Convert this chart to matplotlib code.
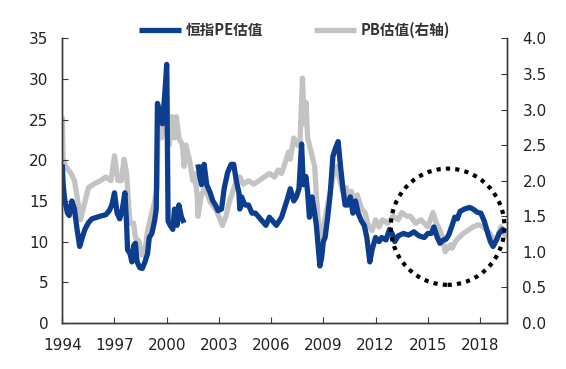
import numpy as np
import matplotlib
matplotlib.use("Agg")
import matplotlib.pyplot as plt
from matplotlib.patches import Ellipse

# 恒指PE (左轴), 2001-2002 之间缺数据
pe_year = [1994.0, 1994.05, 1994.15, 1994.3, 1994.4, 1994.55, 1994.7, 1994.85, 1995.0, 1995.15,
           1995.3, 1995.5, 1995.7, 1996.0, 1996.3, 1996.5, 1996.7, 1996.85, 1997.0, 1997.15,
           1997.3, 1997.45, 1997.6, 1997.7, 1997.75, 1997.9, 1998.0, 1998.1, 1998.2, 1998.3,
           1998.45, 1998.6, 1998.75, 1998.9, 1999.0, 1999.15, 1999.3, 1999.4, 1999.47, 1999.6,
           1999.75, 1999.85, 1999.95, 2000.0, 2000.04, 2000.08, 2000.2, 2000.35, 2000.45, 2000.6,
           2000.7, 2000.85, 2001.0, 2001.4,
           2001.8, 2001.9, 2002.0, 2002.15, 2002.3, 2002.5, 2002.65, 2002.8, 2002.95, 2003.15,
           2003.3, 2003.5, 2003.7, 2003.85, 2004.0, 2004.15, 2004.2, 2004.3, 2004.5, 2004.7,
           2004.9, 2005.1, 2005.3, 2005.5, 2005.7, 2005.9, 2006.1, 2006.3, 2006.6, 2006.9,
           2007.1, 2007.3, 2007.45, 2007.6, 2007.75, 2007.85, 2008.0, 2008.1, 2008.2, 2008.35,
           2008.5, 2008.6, 2008.7, 2008.8, 2008.9, 2009.0, 2009.1, 2009.25, 2009.4, 2009.55,
           2009.7, 2009.85, 2010.0, 2010.1, 2010.25, 2010.4, 2010.55, 2010.7, 2010.85, 2011.0,
           2011.2, 2011.35, 2011.5, 2011.67, 2011.8, 2012.0, 2012.2, 2012.35, 2012.6, 2012.8,
           2012.95, 2013.1, 2013.3, 2013.6, 2013.9, 2014.2, 2014.5, 2014.8, 2015.0, 2015.2,
           2015.35, 2015.55, 2015.7, 2015.9, 2016.05, 2016.2, 2016.4, 2016.55, 2016.7, 2016.85,
           2017.1, 2017.4, 2017.6, 2017.85, 2018.05, 2018.25, 2018.45, 2018.6, 2018.75, 2018.95,
           2019.1, 2019.3, 2019.45]
pe_val = [19.5, 17.0, 15.0, 13.5, 13.2, 15.0, 14.0, 11.5, 9.4, 10.5,
          11.5, 12.3, 12.8, 13.0, 13.2, 13.3, 13.8, 14.5, 16.0, 13.5,
          12.8, 14.0, 16.0, 12.0, 9.0, 8.5, 7.5, 9.5, 9.8, 7.5,
          6.8, 6.7, 7.5, 8.5, 10.5, 11.0, 12.5, 14.0, 27.0, 26.0,
          24.5, 27.0, 30.0, 31.8, 22.0, 12.5, 12.0, 11.5, 14.0, 12.0,
          14.5, 13.0, 12.3, np.nan,
          19.5, 18.0, 17.0, 19.5, 17.0, 16.0, 15.0, 14.5, 13.8, 14.0,
          16.5, 18.5, 19.5, 19.5, 17.5, 16.0, 14.0, 15.5, 14.5, 14.5,
          13.5, 13.5, 13.0, 12.5, 12.0, 13.0, 12.5, 12.0, 13.0, 15.0,
          16.5, 15.0, 15.5, 16.5, 22.0, 17.0, 18.0, 16.0, 13.0, 15.5,
          13.5, 12.0, 9.5, 7.0, 8.0, 10.0, 10.5, 13.0, 16.0, 20.5,
          21.5, 22.3, 19.0, 17.0, 14.5, 14.5, 15.5, 13.5, 15.0, 13.5,
          12.5, 12.0, 10.5, 7.5, 9.0, 10.5, 10.0, 10.5, 10.2, 11.5,
          11.0, 10.0, 10.7, 11.0, 10.8, 11.2, 10.7, 10.5, 11.0, 11.0,
          11.8, 10.5, 9.8, 10.2, 10.3, 10.8, 12.0, 13.0, 12.8, 13.7,
          14.0, 14.2, 14.0, 13.6, 13.5, 12.5, 11.0, 10.0, 9.4, 10.2,
          11.0, 11.5, 11.2]

# PB (右轴)
pb_year = [1994.0, 1994.05, 1994.2, 1994.5, 1994.7, 1994.9, 1995.05, 1995.2, 1995.5, 1995.8,
           1996.2, 1996.5, 1996.8, 1997.0, 1997.2, 1997.4, 1997.55, 1997.7, 1997.8, 1997.9,
           1998.1, 1998.2, 1998.4, 1998.6, 1998.75, 1998.9, 1999.1, 1999.3, 1999.45, 1999.5,
           1999.7, 1999.9, 2000.0, 2000.05, 2000.15, 2000.3, 2000.45, 2000.55, 2000.7, 2000.9,
           2001.0, 2001.1, 2001.3, 2001.5, 2001.6, 2001.75, 2001.8, 2002.0, 2002.2, 2002.5,
           2002.8, 2003.0, 2003.2, 2003.4, 2003.6, 2003.8, 2004.0, 2004.2, 2004.4, 2004.7,
           2005.0, 2005.3, 2005.6, 2005.9, 2006.2, 2006.4, 2006.6, 2006.8, 2007.0, 2007.1,
           2007.3, 2007.5, 2007.65, 2007.8, 2007.9, 2008.0, 2008.1, 2008.3, 2008.5, 2008.6,
           2008.75, 2008.85, 2009.0, 2009.2, 2009.4, 2009.6, 2009.8, 2009.9, 2010.1, 2010.3,
           2010.45, 2010.6, 2010.8, 2010.95, 2011.2, 2011.4, 2011.6, 2011.8, 2012.0, 2012.2,
           2012.4, 2012.7, 2013.0, 2013.3, 2013.5, 2013.8, 2014.0, 2014.3, 2014.6, 2014.8,
           2015.0, 2015.3, 2015.5, 2015.7, 2015.85, 2016.0, 2016.3, 2016.4, 2016.6, 2016.8,
           2017.0, 2017.3, 2017.6, 2017.9, 2018.2, 2018.4, 2018.6, 2018.8, 2019.0, 2019.2,
           2019.4, 2019.55]
pb_val = [2.9, 2.3, 2.2, 2.1, 2.0, 1.7, 1.45, 1.6, 1.9, 1.95,
          2.0, 2.05, 2.0, 2.35, 2.0, 2.0, 2.3, 2.1, 1.7, 1.4,
          1.4, 1.2, 1.15, 0.95, 1.0, 1.3, 1.5, 1.7, 1.9, 2.8,
          2.6, 2.9, 3.5, 2.9, 2.5, 2.9, 2.6, 2.9, 2.6, 2.5,
          2.2, 2.5, 2.3, 2.0, 2.1, 1.8, 1.5, 1.8, 1.9, 1.7,
          1.6, 1.5, 1.37, 1.5, 1.7, 1.85, 2.0, 2.05, 1.95, 2.0,
          1.95, 2.0, 2.05, 2.1, 2.05, 2.15, 2.1, 2.25, 2.4, 2.3,
          2.6, 2.5, 2.5, 3.44, 2.8, 3.1, 2.6, 2.4, 2.2, 1.8,
          1.3, 1.2, 1.35, 1.6, 1.85, 2.1, 2.2, 2.05, 1.85, 1.9,
          1.75, 1.85, 1.7, 1.8, 1.6, 1.55, 1.35, 1.3, 1.45, 1.35,
          1.45, 1.4, 1.5, 1.45, 1.55, 1.5, 1.5, 1.4, 1.45, 1.4,
          1.35, 1.55, 1.4, 1.3, 1.2, 1.0, 1.1, 1.05, 1.15, 1.2,
          1.25, 1.3, 1.35, 1.38, 1.35, 1.3, 1.25, 1.15, 1.2, 1.35,
          1.25, 1.2]

year_ticks = [1994, 1997, 2000, 2003, 2006, 2009, 2012, 2015, 2018]

blue = '#0d3d8e'
grey = '#c3c3c3'
spine = '#3a3a3a'

plt.rcParams['font.family'] = ['DejaVu Sans']
fig = plt.figure(figsize=(5.66, 3.69), dpi=100)
ax = fig.add_axes([0.110, 0.125, 0.786, 0.771])
ax2 = ax.twinx()

# 灰线在下面
ax.set_zorder(ax2.get_zorder() + 1)
ax.patch.set_visible(False)

l2, = ax2.plot(pb_year, pb_val, color=grey, lw=3.8, solid_capstyle='butt', label='PB估值(右轴)')
l1, = ax.plot(pe_year, pe_val, color=blue, lw=3.8, solid_capstyle='butt', label='恒指PE估值')

ax.set_xlim(1994, 2019.56)
ax.set_ylim(0, 35)
ax2.set_ylim(0, 4.0)
ax.set_xticks(year_ticks)
ax.set_xticklabels([str(y) for y in year_ticks])
ax.set_yticks(range(0, 36, 5))
ax2.set_yticks(np.arange(0, 4.01, 0.5))
ax2.set_yticklabels(['%.1f' % v for v in np.arange(0, 4.01, 0.5)])

for a in (ax, ax2):
    a.spines['top'].set_visible(False)
    for s in ('left', 'right', 'bottom'):
        a.spines[s].set_color(spine)
        a.spines[s].set_linewidth(1.0)
    a.tick_params(direction='in', length=4, width=0.8, color=spine, labelsize=11,
                  labelcolor='#222222')
ax.tick_params(axis='y', pad=10)
ax.tick_params(axis='x', pad=11)
ax2.tick_params(axis='y', pad=11)

# 虚线圈
circ = Ellipse((2016.14, 11.83), 6.53, 14.3, fill=False, edgecolor='black', lw=3.0,
               linestyle=(0, (1, 1.25)), clip_on=False, zorder=5)
ax.add_patch(circ)

fig.legend([l1, l2], ['恒指PE估值', 'PB估值(右轴)'], loc='center', ncol=2,
           bbox_to_anchor=(0.52, 0.918), frameon=False, handlelength=2.9,
           columnspacing=3.5, handletextpad=0.3,
           prop={'family': ['Noto Sans CJK SC', 'DejaVu Sans'], 'size': 10.5, 'weight': 'bold'},
           labelcolor='#333333')

fig.savefig('out.png', dpi=100, facecolor='white')
